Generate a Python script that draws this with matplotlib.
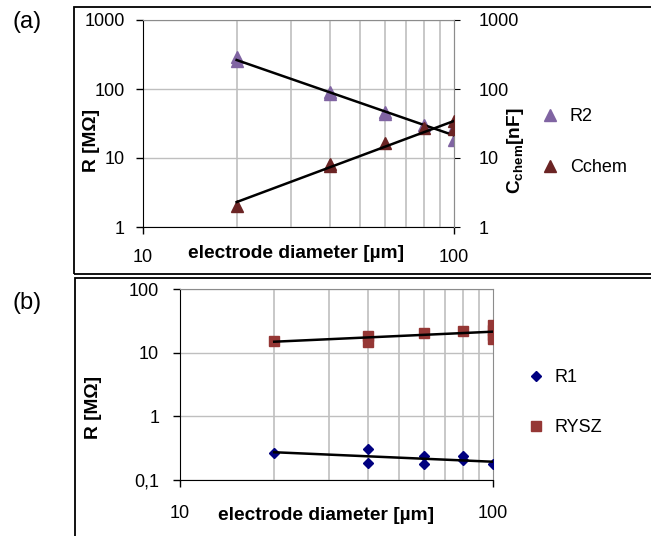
import matplotlib.pyplot as plt
from matplotlib.patches import Rectangle
import numpy as np

plt.rcParams['font.family'] = ['Liberation Sans', 'DejaVu Sans']
plt.rcParams['mathtext.fontset'] = 'custom'
plt.rcParams['mathtext.rm'] = 'Liberation Sans'
plt.rcParams['mathtext.bf'] = 'Liberation Sans:bold'

# (a) R2 and Cchem vs electrode diameter
dia_r2 = [20, 20, 40, 40, 60, 60, 80, 100, 100]
r2 = [290, 255, 90, 84, 46, 43, 30, 28, 18]
dia_cchem = [20, 40, 40, 60, 80, 100, 100]
cchem = [2.0, 8.2, 7.6, 16.5, 27.5, 34, 26.5]

# (b) R1 and RYSZ vs electrode diameter
dia_r1 = [20, 40, 40, 60, 60, 80, 80, 100]
r1 = [0.27, 0.31, 0.185, 0.235, 0.18, 0.235, 0.205, 0.178]
dia_rysz = [20, 40, 40, 60, 80, 100, 100, 100, 100]
rysz = [15.2, 18.5, 14.8, 20.5, 21.8, 27, 23, 19, 16.5]

ticks_a = [1, 10, 100, 1000]
ticklabels_a = ['1', '10', '100', '1000']
ticks_b = [0.1, 1, 10, 100]
ticklabels_b = ['0,1', '1', '10', '100']
xticks = [10, 100]
xminor = [20, 30, 40, 50, 60, 70, 80, 90]

FS = 13      # tick and legend text
FSB = 13.8   # bold axis titles
W, H = 651, 536


def power_trend(x, y):
    k, b = np.polyfit(np.log10(x), np.log10(y), 1)
    xs = np.array([min(x), max(x)])
    return xs, 10 ** (b + k * np.log10(xs))


def style_axes(ax, yticks, ylabels, ylim):
    ax.set_xscale('log')
    ax.set_yscale('log')
    ax.set_xlim(10, 100)
    ax.set_ylim(*ylim)
    ax.set_xticks(xticks)
    ax.set_xticklabels([str(t) for t in xticks])
    ax.set_xticks(xminor, minor=True)
    ax.set_xticklabels([], minor=True)
    ax.set_yticks(yticks)
    ax.set_yticklabels(ylabels)
    ax.yaxis.set_minor_locator(plt.NullLocator())
    ax.tick_params(axis='x', which='minor', length=0)
    ax.tick_params(axis='both', which='major', labelsize=FS, length=5, width=1)
    ax.grid(True, which='major', axis='y', color='#bfbfbf', lw=1)
    ax.grid(True, which='minor', axis='x', color='#bfbfbf', lw=1.2)
    ax.set_axisbelow(True)
    for s in ['top', 'right']:
        ax.spines[s].set_color('#8c8c8c')
    for s in ['left', 'bottom']:
        ax.spines[s].set_color('black')


fig = plt.figure(figsize=(W / 100, H / 100), dpi=100)

# panel frames
fig.patches.append(Rectangle((74 / W, 1 - 274 / H), 1, (274 - 7) / H,
                             transform=fig.transFigure, fill=False, ec='black', lw=1.3))
fig.patches.append(Rectangle((75 / W, -0.05), 1, 0.05 + (536 - 278) / H,
                             transform=fig.transFigure, fill=False, ec='black', lw=1.3))

# ---- panel (a)
ax1 = fig.add_axes([143 / W, 1 - 227 / H, 311 / W, 207 / H])
style_axes(ax1, ticks_a, ticklabels_a, (1, 1000))
ax1.tick_params(axis='x', pad=11)
ax1.tick_params(axis='y', pad=8)
ax1.plot(dia_r2, r2, '^', color='#8064a2', ms=8, label='R2', zorder=3)
xs, ys = power_trend(dia_r2, r2)
ax1.plot(xs, ys, color='black', lw=1.8, zorder=4)

ax2 = ax1.twinx()
ax2.set_yscale('log')
ax2.set_ylim(1, 1000)
ax2.set_yticks(ticks_a)
ax2.set_yticklabels(ticklabels_a)
ax2.yaxis.set_minor_locator(plt.NullLocator())
ax2.tick_params(axis='y', labelsize=FS, length=4, pad=14)
ax2.spines['right'].set_color('#8c8c8c')
ax2.spines['top'].set_visible(False)
ax2.spines['left'].set_visible(False)
ax2.spines['bottom'].set_visible(False)
ax2.plot(dia_cchem, cchem, '^', color='#6b2424', ms=8, label='Cchem', zorder=3)
xs, ys = power_trend(dia_cchem, cchem)
ax2.plot(xs, ys, color='black', lw=1.8, zorder=4)

ax1.set_ylabel('R [M\u03a9]', fontsize=FSB, fontweight='bold')
ax1.yaxis.set_label_coords(-0.138, 0.42)
ax1.set_xlabel('electrode diameter [\u00b5m]', fontsize=FSB, fontweight='bold')
ax1.xaxis.set_label_coords(0.492, -0.087)
ax2.set_ylabel(r'$\mathbf{C_{chem}[nF]}$', fontsize=FSB)
ax2.yaxis.set_label_coords(1.164, 0.367)

h1, l1 = ax1.get_legend_handles_labels()
h2, l2 = ax2.get_legend_handles_labels()
ax2.legend(h1 + h2, l1 + l2, loc='center left', bbox_to_anchor=(541 / W, 1 - 142 / H),
           bbox_transform=fig.transFigure, frameon=False, fontsize=FS,
           handlelength=1, handletextpad=0.6, labelspacing=1.88,
           borderpad=0, borderaxespad=0)

# ---- panel (b)
ax3 = fig.add_axes([180 / W, 1 - 480 / H, 313 / W, 191 / H])
style_axes(ax3, ticks_b, ticklabels_b, (0.1, 100))
ax3.tick_params(axis='x', pad=13)
ax3.tick_params(axis='y', pad=10)
ax3.plot(dia_r1, r1, 'D', color='#000080', ms=5, label='R1', zorder=3)
ax3.plot(dia_rysz, rysz, 's', color='#953735', ms=6.5, label='RYSZ', zorder=3)
xs, ys = power_trend(dia_r1, r1)
ax3.plot(xs, ys, color='black', lw=1.8, zorder=4)
xs, ys = power_trend(dia_rysz, rysz)
ax3.plot(xs, ys, color='black', lw=1.8, zorder=4)
ax3.set_ylabel('R [M\u03a9]', fontsize=FSB, fontweight='bold')
ax3.yaxis.set_label_coords(-0.249, 0.382)
ax3.set_xlabel('electrode diameter [\u00b5m]', fontsize=FSB, fontweight='bold')
ax3.xaxis.set_label_coords(0.468, -0.141)
ax3.legend(loc='center left', bbox_to_anchor=(527 / W, 1 - 402.5 / H),
           bbox_transform=fig.transFigure, frameon=False, fontsize=FS,
           handlelength=1, handletextpad=0.55, labelspacing=1.83,
           borderpad=0, borderaxespad=0)

fig.text(13 / W, 1 - 22 / H, '(a)', fontsize=17, va='center', ha='left')
fig.text(13 / W, 1 - 303 / H, '(b)', fontsize=17, va='center', ha='left')

fig.savefig('out.png', dpi=100)
